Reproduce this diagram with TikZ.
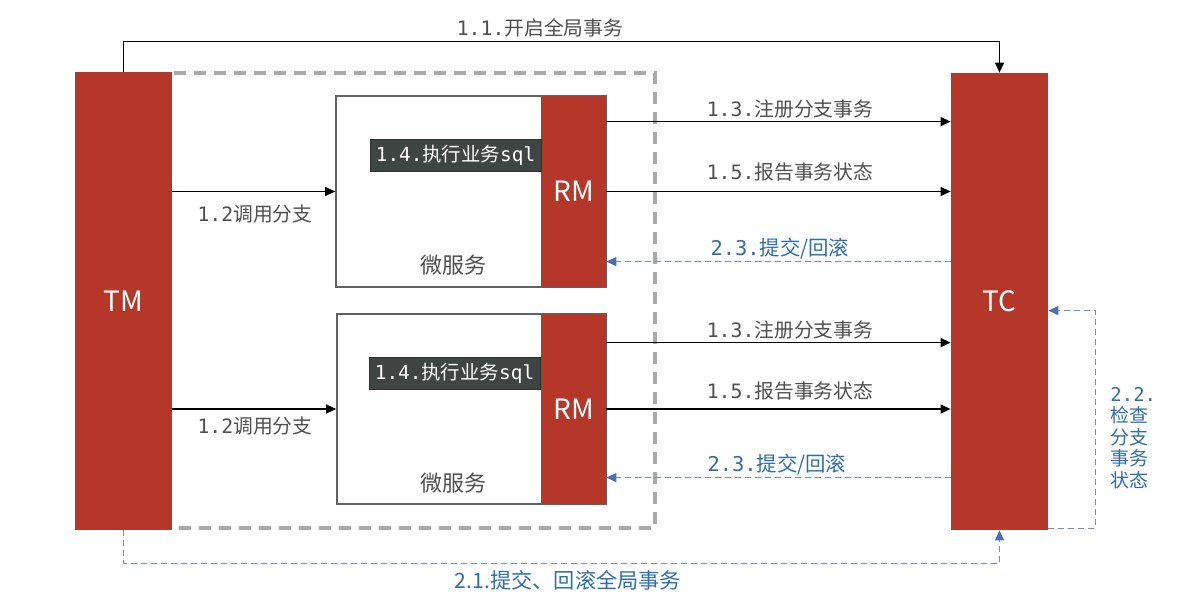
\documentclass[tikz,border=0pt]{standalone}
\usepackage{fontspec}
\setmainfont{Noto Sans CJK SC}
\newfontfamily\monof{DejaVu Sans Mono}
\usetikzlibrary{arrows.meta,calc}
\definecolor{tmred}{HTML}{B5372A}
\definecolor{sqlbg}{HTML}{3F4543}
\definecolor{txtgray}{HTML}{4F4F4F}
\definecolor{bluetxt}{HTML}{2F6DAE}
\definecolor{blueline}{HTML}{7C8CAA}
\definecolor{bluehead}{HTML}{4A6FB0}
\definecolor{boxgray}{HTML}{A9A9A9}
\newcommand\lbl[2]{{\monof #1}#2}
\tikzset{
  redbar/.style={draw=none,fill=tmred,text=white,inner sep=0pt,font=\fontsize{14}{16}\selectfont},
  msbox/.style={draw=txtgray!90,line width=0.8pt,fill=white,inner sep=0pt},
  sqlbox/.style={fill=sqlbg,draw=sqlbg!70!black,text=white,inner sep=0pt,font=\fontsize{9.7}{11}\selectfont},
  blk/.style={line width=0.55pt,-{Triangle[length=5pt,width=4.5pt]}},
  bdash/.style={draw=blueline,line width=0.6pt,dash pattern=on 3pt off 2pt,-{Triangle[length=5pt,width=4.5pt,fill=bluehead,color=bluehead]}},
  lab/.style={text=txtgray,inner sep=1pt,font=\fontsize{9.9}{12}\selectfont},
  blab/.style={text=bluetxt,inner sep=1pt,font=\fontsize{10.2}{12}\selectfont},
}
\begin{document}
\begin{tikzpicture}[x=0.5pt,y=-0.5pt]
\useasboundingbox (0,0) rectangle (1178,611);
% dashed container
\draw[boxgray,line width=1.6pt,dash pattern=on 6pt off 4pt] (174,73) -- (655,73) -- (655,528) -- (174,528);
% main bars
\node[redbar,minimum width=48.5pt,minimum height=229pt] (TM) at (123.5,301) {TM};
\node[redbar,minimum width=48.5pt,minimum height=228.5pt] (TC) at (999.5,301.5) {TC};
% microservices
\node[msbox,minimum width=135pt,minimum height=95.5pt] (MS1) at (471,191.5) {};
\node[redbar,minimum width=32.5pt,minimum height=95.5pt] (RM1) at (573.5,191.5) {RM};
\node[sqlbox,minimum width=85.5pt,minimum height=16pt] (SQL1) at (455.5,155) {\lbl{1.4.}{执行业务}{\monof sql}};
\node[text=txtgray,font=\fontsize{11}{13}\selectfont] (W1) at (453,265) {微服务};
\node[msbox,minimum width=134.5pt,minimum height=95pt] (MS2) at (471.5,409) {};
\node[redbar,minimum width=32.5pt,minimum height=95pt] (RM2) at (573.5,409) {RM};
\node[sqlbox,minimum width=85.5pt,minimum height=16pt] (SQL2) at (454.5,373) {\lbl{1.4.}{执行业务}{\monof sql}};
\node[text=txtgray,font=\fontsize{11}{13}\selectfont] (W2) at (453,483) {微服务};
% 1.1
\draw[blk] (TM.north) -- ++(0,-30) -| (TC.north);
\node[lab] (L11) at (540,28) {\lbl{1.1.}{开启全局事务}};
% 1.2
\draw[blk] (TM.east |- MS1.west) -- (MS1.west);
\node[lab] (L12a) at (255,214) {\lbl{1.2}{调用分支}};
\draw[blk] (TM.east |- MS2.west) -- (MS2.west);
\node[lab] (L12b) at (255,426) {\lbl{1.2}{调用分支}};
% RM1 -> TC
\coordinate (a13) at ($(RM1.north east)+(0,26)$);
\draw[blk] (a13) -- (a13 -| TC.west);
\node[lab] (L13a) at (790,109) {\lbl{1.3.}{注册分支事务}};
\draw[blk] (RM1.east) -- (RM1.east -| TC.west);
\node[lab] (L15a) at (790,172) {\lbl{1.5.}{报告事务状态}};
\coordinate (a23) at ($(RM1.north east)+(0,166)$);
\draw[bdash] (a23 -| TC.west) -- (a23);
\node[blab] (L23a) at (780,249) {\lbl{2.3.}{提交/回滚}};
% RM2 -> TC
\coordinate (b13) at ($(RM2.north east)+(0,29)$);
\draw[blk] (b13) -- (b13 -| TC.west);
\node[lab] (L13b) at (790,330) {\lbl{1.3.}{注册分支事务}};
\draw[blk] (RM2.east) -- (RM2.east -| TC.west);
\node[lab] (L15b) at (790,391) {\lbl{1.5.}{报告事务状态}};
\coordinate (b23) at ($(RM2.north east)+(0,164)$);
\draw[bdash] (b23 -| TC.west) -- (b23);
\node[blab] (L23b) at (777,465) {\lbl{2.3.}{提交/回滚}};
% 2.1
\draw[bdash] (TM.south) -- ++(0,33) -| (TC.south);
\node[blab,font=\fontsize{10.6}{12}\selectfont] (L21) at (568,580) {2.1.提交、回滚全局事务};
% 2.2
\coordinate (c22) at ($(TC.north east)+(0,238)$);
\draw[bdash] ($(TC.south east)+(0,-2)$) -- ++(47,0) |- (c22);
\node[blab,align=left,anchor=west,font=\fontsize{9.5}{10.8}\selectfont] (L22) at (1108,438) {{\monof 2.2.}\\检查\\分支\\事务\\状态};
\end{tikzpicture}
\end{document}
